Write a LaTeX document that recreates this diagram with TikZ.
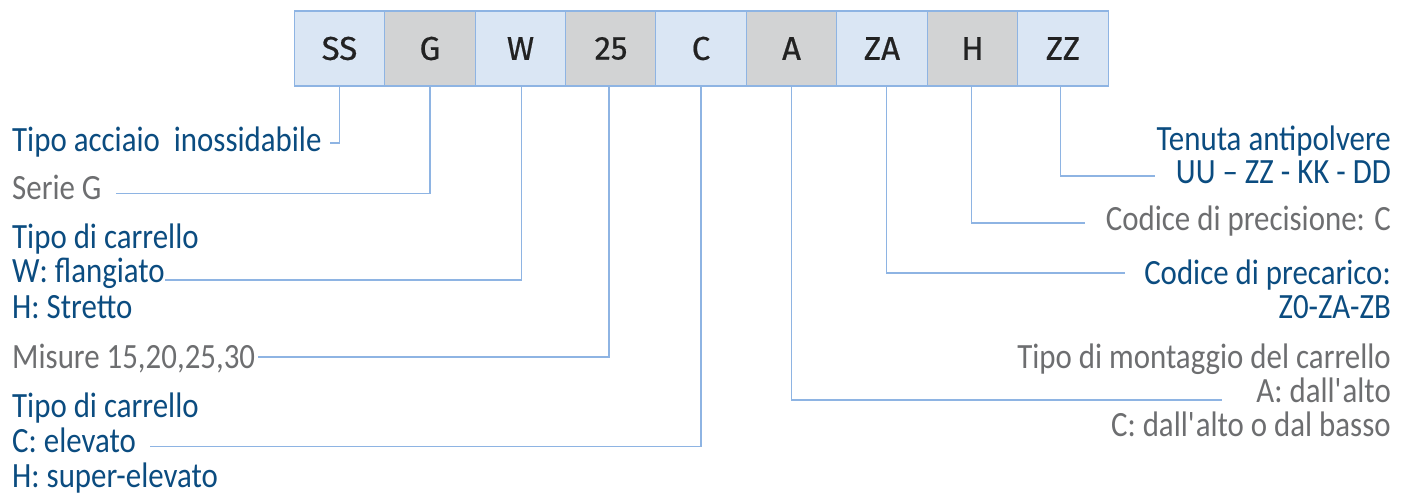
\documentclass[tikz,border=0pt]{standalone}
\usepackage{fontspec}
\setmainfont{Carlito}[FakeStretch=0.87]
\newfontfamily\boxfont{Fira Sans}[FakeBold=0.6]
\definecolor{txtblue}{HTML}{0B4C80}
\definecolor{txtgray}{HTML}{6D6E70}
\definecolor{boxblue}{HTML}{DAE6F4}
\definecolor{boxgray}{HTML}{D2D3D4}
\definecolor{edge}{HTML}{8EB4E3}
\definecolor{ink}{HTML}{222222}
\tikzset{
  codebox/.style={draw=edge, line width=1.3pt, minimum width=90.4pt, minimum height=75pt, inner sep=0pt,
    font=\boxfont\fontsize{33}{33}\selectfont, text=ink},
  cbl/.style={codebox, fill=boxblue},
  cgr/.style={codebox, fill=boxgray},
  lab/.style={inner sep=0pt, text height=23pt, text depth=6pt, font=\fontsize{35.5}{35.5}\selectfont},
  labL/.style={lab, anchor=base west},
  labR/.style={lab, anchor=base east},
  conn/.style={draw=edge, line width=1.1pt}
}
\begin{document}
\begin{tikzpicture}[x=1pt,y=-1pt]
\useasboundingbox (0,0) rectangle (1411,497);
% boxes
\node[cbl] (b1) at (339.5,48.5) {SS};
\node[cgr] (b2) at (430,48.5) {G};
\node[cbl] (b3) at (520.5,48.5) {W};
\node[cgr] (b4) at (611,48.5) {25};
\node[cbl] (b5) at (701,48.5) {C};
\node[cgr] (b6) at (791.5,48.5) {A};
\node[cbl] (b7) at (882,48.5) {ZA};
\node[cgr] (b8) at (972.5,48.5) {H};
\node[cbl] (b9) at (1063,48.5) {ZZ};
% left labels
\node[labL, text=txtblue] (l1) at (12,152) {Tipo acciaio\ \ inossidabile};
\node[labL, text=txtgray] (l2) at (12,200) {Serie G};
\node[labL, text=txtblue] (l3a) at (12,248) {Tipo di carrello};
\node[labL, text=txtblue] (l3b) at (12,283) {W: flangiato};
\node[labL, text=txtblue] (l3c) at (12,318) {H: Stretto};
\node[labL, text=txtgray] (l4) at (12,368) {Misure 15,20,25,30};
\node[labL, text=txtblue] (l5a) at (12,417) {Tipo di carrello};
\node[labL, text=txtblue] (l5b) at (12,452) {C: elevato};
\node[labL, text=txtblue] (l5c) at (12,487) {H: super-elevato};
% right labels
\node[labR, text=txtblue] (r9a) at (1391,151) {Tenuta antipolvere};
\node[labR, text=txtblue] (r9b) at (1391,184) {UU -- ZZ - KK - DD};
\node[labR, text=txtgray] (r8) at (1391,231) {Codice di precisione: C};
\node[labR, text=txtblue] (r7a) at (1391,284) {Codice di precarico:};
\node[labR, text=txtblue] (r7b) at (1391,318) {Z0-ZA-ZB};
\node[labR, text=txtgray] (r6a) at (1391,368) {Tipo di montaggio del carrello};
\node[labR, text=txtgray] (r6b) at (1391,402) {A: dall\textquotesingle alto};
\node[labR, text=txtgray] (r6c) at (1391,436) {C: dall\textquotesingle alto o dal basso};
% connector ends
\coordinate (e1) at (330,143);
\coordinate (e2) at (116,193.5);
\coordinate (e3) at (165,280);
\coordinate (e4) at (258,357);
\coordinate (e5) at (150,446.5);
\coordinate (e6) at (1222,400);
\coordinate (e7) at (1125,273);
\coordinate (e8) at (1085,223);
\coordinate (e9) at (1155,176);
% connectors
\draw[conn] (b1.south) |- (e1);
\draw[conn] (b2.south) |- (e2);
\draw[conn] ([xshift=1pt]b3.south) |- (e3);
\draw[conn] ([xshift=-2pt]b4.south) |- (e4);
\draw[conn] (b5.south) |- (e5);
\draw[conn] (b6.south) |- (e6);
\draw[conn] ([xshift=4.5pt]b7.south) |- (e7);
\draw[conn] ([xshift=-1pt]b8.south) |- (e8);
\draw[conn] ([xshift=-2.5pt]b9.south) |- (e9);
\end{tikzpicture}
\end{document}
